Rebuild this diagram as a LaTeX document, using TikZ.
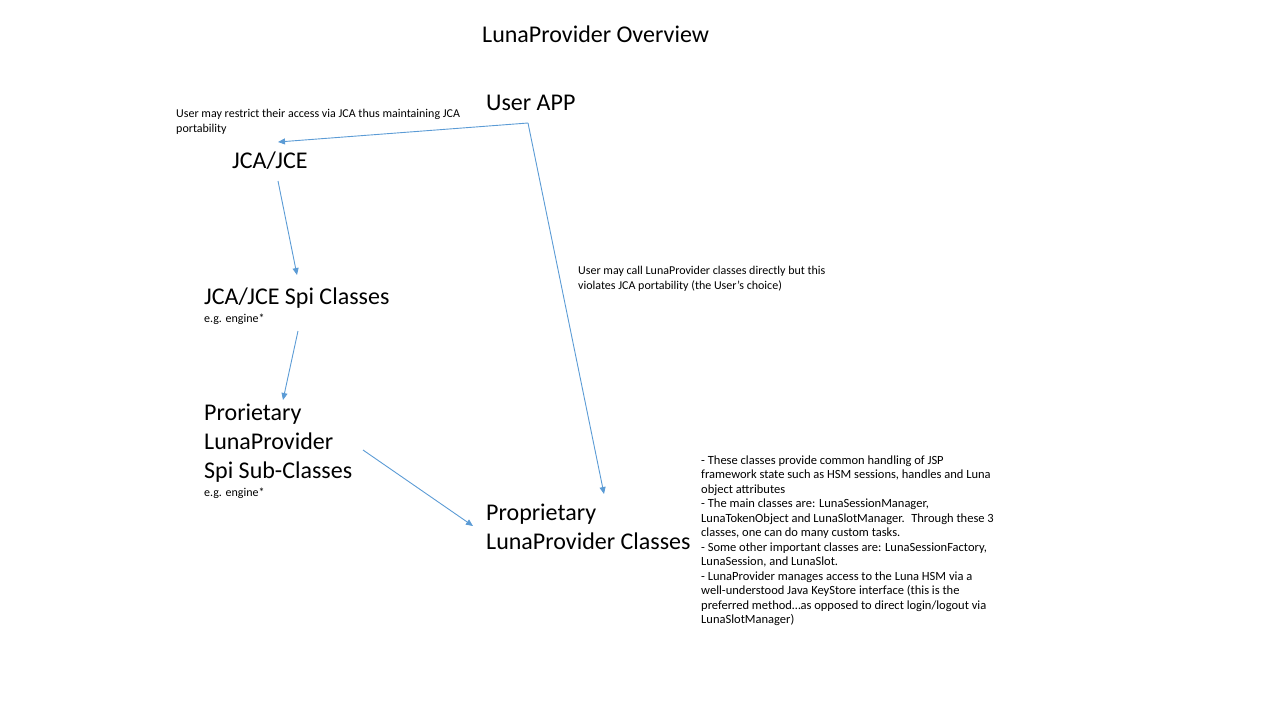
\documentclass[tikz,border=0pt]{standalone}
\usepackage{fontspec}
\setmainfont{Carlito}
\usetikzlibrary{arrows.meta}
\definecolor{arrowblue}{RGB}{91,155,213}
\tikzset{
  big/.style={anchor=base west, inner sep=0pt, font=\fontsize{24}{29}\selectfont, align=left},
  ttl/.style={anchor=base west, inner sep=0pt, font=\fontsize{24}{29}\selectfont},
  small/.style={anchor=base west, inner sep=0pt, font=\fontsize{12}{14.5}\selectfont, align=left},
  smallwide/.style={small, font=\fontsize{12.5}{14.5}\selectfont},
  arr/.style={draw=arrowblue, line width=0.9pt, -{Triangle[length=7pt,width=6pt]}},
}
\begin{document}
\begin{tikzpicture}[x=1pt,y=-1pt]
\useasboundingbox (0,0) rectangle (1280,720);
\node[ttl] (title) at (482,42) {LunaProvider Overview};
\node[big] (app) at (486,110) {User APP};
\node[small] (note1) at (176,132) {User may restrict their access via JCA thus maintaining JCA\\portability};
\node[big] (jca) at (232,168) {JCA/JCE};
\node[big] (spi) at (204,304) {JCA/JCE Spi Classes};
\node[small] (spieg) at (204,322) {e.g. engine*};
\node[big] (prspi) at (204,478) {Prorietary\\LunaProvider\\Spi Sub-Classes};
\node[small] (prspieg) at (204,496) {e.g. engine*};
\node[big] (luna) at (486,549) {Proprietary\\LunaProvider Classes};
\node[small] (note2) at (578,289) {User may call LunaProvider classes directly but this\\violates JCA portability (the User's choice)};
\node[smallwide] (note3) at (701,623.5) {- These classes provide common handling of JSP\\framework state such as HSM sessions, handles and Luna\\object attributes\\- The main classes are: LunaSessionManager,\\LunaTokenObject and LunaSlotManager.~ Through these 3\\classes, one can do many custom tasks.\\- Some other important classes are: LunaSessionFactory,\\LunaSession, and LunaSlot.\\- LunaProvider manages access to the Luna HSM via a\\well-understood Java KeyStore interface (this is the\\preferred method\dots as opposed to direct login/logout via\\LunaSlotManager)};
\coordinate (appout) at (528,123);
\coordinate (jcain) at (278,142);
\coordinate (lunain) at (604,494);
\coordinate (jcaout) at (278,181);
\coordinate (spiin) at (297,275);
\coordinate (spiout) at (298,331);
\coordinate (prspiin) at (283,400);
\coordinate (prspiout) at (363,450);
\coordinate (lunain2) at (473,526);
\draw[arr] (appout) -- (jcain);
\draw[arr] (appout) -- (lunain);
\draw[arr] (jcaout) -- (spiin);
\draw[arr] (spiout) -- (prspiin);
\draw[arr] (prspiout) -- (lunain2);
\end{tikzpicture}
\end{document}
